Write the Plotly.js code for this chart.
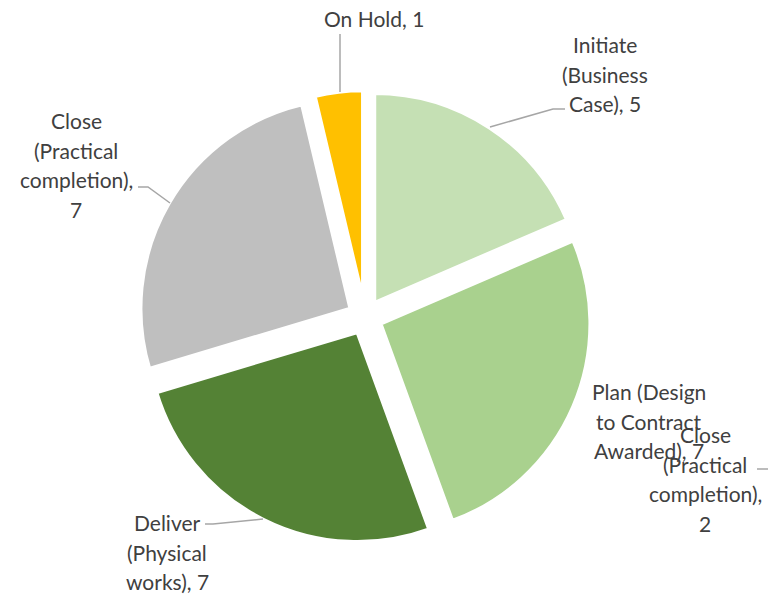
<!DOCTYPE html>
<html>
<head>
<meta charset="utf-8">
<script src="https://cdn.plot.ly/plotly-3.0.1.min.js"></script>
<style>html,body{margin:0;padding:0;background:#fff;}#chart{width:768px;height:595px;}</style>
</head>
<body>
<div id="chart"></div>
<script>
// Data
var stages = ["Initiate (Business Case)", "Plan (Design to Contract Awarded)", "Close (Practical completion) ", "Deliver (Physical works)", "Close (Practical completion)", "On Hold"];
var sliceValues = [5, 7, 0, 7, 7, 1];
var labelValues = [5, 7, 2, 7, 7, 1];
var labelLines = [
  ["Initiate", "(Business", "Case), 5"],
  ["Plan (Design", "to Contract", "Awarded), 7"],
  ["Close", "(Practical", "completion),", "2"],
  ["Deliver", "(Physical", "works), 7"],
  ["Close", "(Practical", "completion),", "7"],
  ["On Hold, 1"]
];
var colors = ["#C5E0B4", "#A9D18E", "#FFFFFF", "#548235", "#BFBFBF", "#FFC000"];

// Layout-only positions of label blocks (pixel centres) and leader lines
var W = 768, H = 595;
var lineGap = 29.5;
var labelPos = [[605, 74], [649, 421], [705, 479], [167, 552], [76, 165], [374, 18]];
var leaders = [
  [[490, 127], [553, 109], [565, 109]],
  null,
  [[757, 469], [768, 469]],
  [[205, 524], [213, 524], [263, 519]],
  [[138, 187], [148, 187], [170, 203]],
  [[340, 34], [340, 92]]
];

var trace = {
  type: "pie",
  labels: stages,
  values: sliceValues,
  sort: false,
  direction: "clockwise",
  rotation: 0,
  pull: 0.08,
  textinfo: "none",
  hoverinfo: "none",
  showlegend: false,
  marker: {colors: colors, line: {color: "#FFFFFF", width: 4}},
  domain: {x: [138.2 / W, 591.8 / W], y: [1 - 543.8 / H, 1 - 90.2 / H]}
};

var annotations = [];
labelLines.forEach(function (lines, i) {
  var n = lines.length;
  lines.forEach(function (ln, k) {
    var py = labelPos[i][1] + (k - (n - 1) / 2) * lineGap;
    annotations.push({
      xref: "paper", yref: "paper",
      x: labelPos[i][0] / W, y: 1 - py / H,
      xanchor: "center", yanchor: "middle",
      text: ln,
      showarrow: false,
      font: {family: "Lato, 'Noto Sans', sans-serif", size: 21, color: "#404040"}
    });
  });
});

var shapes = [];
leaders.forEach(function (pts) {
  if (!pts) return;
  var d = pts.map(function (p, k) {
    return (k === 0 ? "M" : "L") + (p[0] / W).toFixed(5) + "," + (1 - p[1] / H).toFixed(5);
  }).join(" ");
  shapes.push({type: "path", xref: "paper", yref: "paper", path: d, line: {color: "#A6A6A6", width: 1.5}});
});

var layout = {
  width: W, height: H,
  margin: {l: 0, r: 0, t: 0, b: 0},
  paper_bgcolor: "#FFFFFF",
  plot_bgcolor: "#FFFFFF",
  showlegend: false,
  annotations: annotations,
  shapes: shapes
};

Plotly.newPlot("chart", [trace], layout, {displayModeBar: false, staticPlot: true});
</script>
</body>
</html>
